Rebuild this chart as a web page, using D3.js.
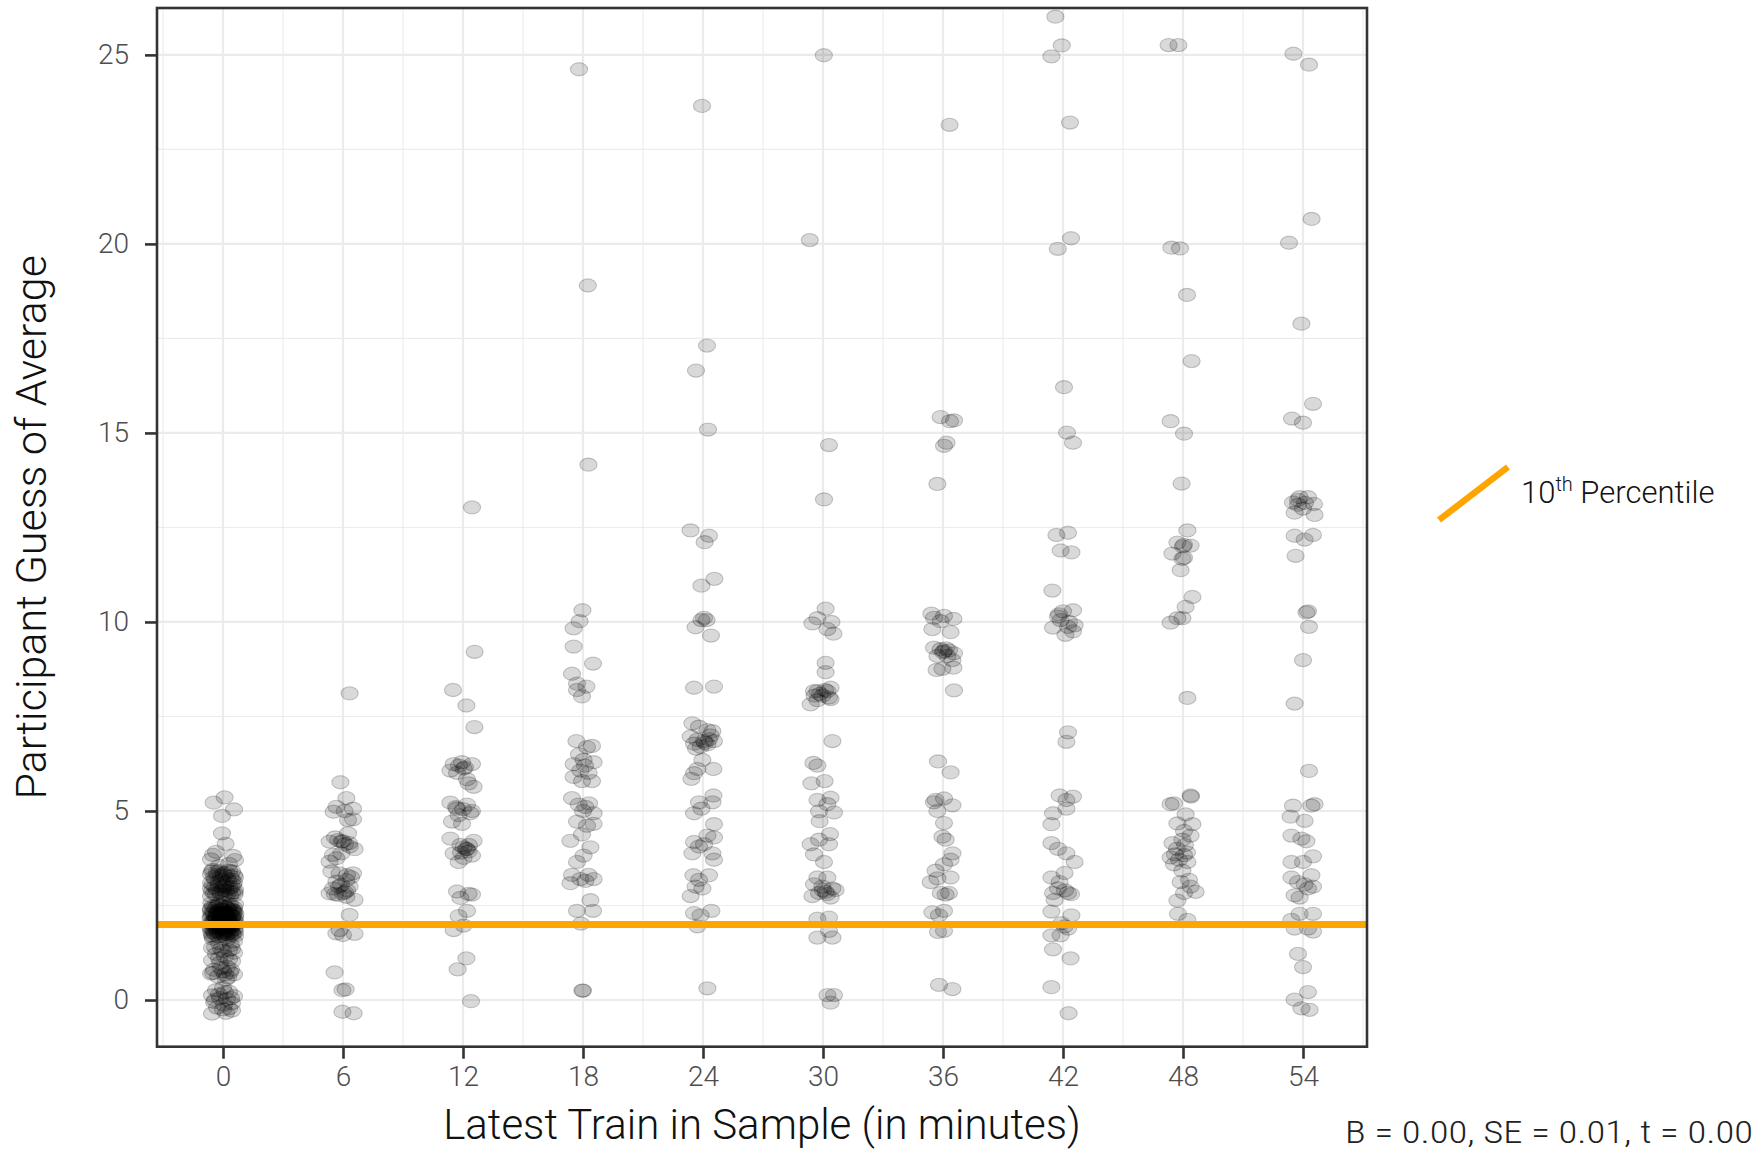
<!DOCTYPE html>
<html>
<head>
<meta charset="utf-8">
<script src="https://cdn.jsdelivr.net/npm/d3@7"></script>
<style>
  html, body { margin: 0; padding: 0; background: #fff; }
  svg { display: block; }
</style>
</head>
<body>
<svg id="chart" width="1760" height="1151"></svg>
<script>
// Latest train in the sample (minutes) and the axis tick values
const trainMinutes = [0, 6, 12, 18, 24, 30, 36, 42, 48, 54];
const xTickLabels = [0, 6, 12, 18, 24, 30, 36, 42, 48, 54];
const yTickLabels = [0, 5, 10, 15, 20, 25];
const percentile10 = 2.0;

// Participant guesses per condition, as [horizontal jitter in minutes, guess]
const guesses0 = [
  [0.08,5.36],[-0.47,5.22],[0.55,5.04],[-0.05,4.87],[-0.05,4.41],[0.13,4.13],[-0.5,3.84],[0.5,3.81],
  [-0.35,3.92],[0.6,3.7],[-0.6,3.72],[0.3,3.6],[-0.2,3.55],
  [-0.55,3.4],[-0.3,3.38],[0.02,3.35],[0.3,3.42],[0.55,3.3],[-0.45,3.25],[-0.1,3.28],[0.2,3.22],
  [0.45,3.18],[-0.6,3.1],[-0.22,3.12],[0.1,3.08],[0.5,3.05],[-0.4,2.98],[0.0,3.01],[0.32,2.96],
  [0.6,2.92],[-0.55,2.88],[-0.15,2.86],[0.15,2.9],[0.45,2.84],[-0.35,2.8],[0.05,2.78],[0.35,2.76],
  [-0.6,2.75],[0.58,2.79],
  [-0.5,3.44],[-0.18,3.41],[0.15,3.37],[0.45,3.4],[-0.6,3.33],[-0.28,3.31],[0.05,3.3],[0.38,3.27],
  [0.6,3.24],[-0.4,3.2],[-0.08,3.17],[0.25,3.15],[0.55,3.12],[-0.52,3.05],[-0.2,3.03],[0.12,3.0],
  [0.42,2.99],[-0.6,2.95],[-0.3,2.92],[0.0,2.9],[0.3,2.87],[0.58,2.85],[-0.45,2.82],[-0.1,2.8],[0.2,2.78],
  [-0.58,2.56],[-0.28,2.51],[0.03,2.54],[0.31,2.49],[0.6,2.53],[-0.44,2.46],[-0.13,2.41],[0.17,2.45],
  [0.46,2.39],[-0.61,2.37],[-0.3,2.33],[0.01,2.38],[0.28,2.31],[0.57,2.35],[-0.47,2.27],[-0.16,2.25],
  [0.14,2.29],[0.44,2.23],[-0.59,2.21],[-0.31,2.17],[-0.02,2.22],[0.29,2.15],[0.61,2.19],[-0.43,2.12],
  [-0.14,2.09],[0.16,2.14],[0.47,2.07],[-0.58,2.05],[-0.29,2.01],[0.02,2.06],[0.32,1.99],[0.59,2.03],
  [-0.46,1.95],[-0.17,1.93],[0.13,1.98],[0.43,1.92],[-0.62,1.89],[-0.32,1.85],[-0.01,1.9],[0.27,1.84],
  [0.58,1.87],[-0.44,1.8],[-0.12,1.77],[0.18,1.82],[0.46,1.76],[-0.55,1.72],[-0.24,1.69],[0.06,1.74],
  [0.36,1.71],[0.6,1.7],[-0.08,2.0],[0.22,2.1],[-0.36,2.2],[0.4,1.96],
  [-0.52,2.48],[-0.21,2.55],[0.09,2.47],[0.38,2.52],[0.55,2.44],[-0.6,2.41],[-0.35,2.44],[-0.05,2.4],
  [0.24,2.43],[0.5,2.37],[-0.48,2.34],[-0.19,2.36],[0.11,2.32],[0.41,2.34],[0.62,2.28],[-0.57,2.29],
  [-0.26,2.3],[0.04,2.27],[0.33,2.26],[0.53,2.31],[-0.41,2.21],[-0.09,2.24],[0.2,2.19],[0.49,2.22],
  [-0.62,2.16],[-0.33,2.13],[-0.04,2.16],[0.26,2.12],[0.55,2.14],[-0.5,2.09],[-0.2,2.06],[0.1,2.1],
  [0.39,2.05],[0.6,2.09],[-0.56,2.01],[-0.25,2.03],[0.05,1.99],[0.35,2.02],[0.52,1.97],[-0.42,1.98],
  [-0.11,1.95],[0.19,1.93],[0.46,1.99],[-0.6,1.93],[-0.3,1.91],[0.0,1.88],[0.3,1.9],[0.56,1.9],
  [-0.49,1.85],[-0.18,1.87],[0.12,1.84],[0.4,1.82],[-0.58,1.79],[-0.27,1.8],[0.03,1.78],[0.33,1.78],
  [0.6,1.8],[-0.4,1.75],[-0.1,1.72],[0.21,1.75],[0.5,1.73],[-0.52,1.68],[0.12,1.68],[-0.3,2.27],
  [0.28,2.4],[-0.15,2.5],[0.45,2.17],[-0.45,2.05],[0.15,1.95],[-0.05,2.3],
  [-0.5,1.62],[0.2,1.6],[0.55,1.55],[-0.2,1.5],[0.4,1.45],[-0.55,1.38],[-0.1,1.35],[0.3,1.32],
  [0.55,1.25],[-0.35,1.22],[0.1,1.15],[-0.55,1.05],[0.45,1.02],[-0.15,0.98],[0.2,0.88],[-0.45,0.8],
  [0.0,0.76],[0.35,0.74],[-0.6,0.7],[0.55,0.68],[-0.25,0.62],[0.15,0.55],
  [-0.4,1.4],[0.0,1.3],[0.45,1.35],[-0.2,1.1],[0.3,1.08],[-0.5,0.72],[0.1,0.68],[0.4,0.8],[-0.1,0.85],[0.25,0.6],
  [0.0,0.32],[-0.35,0.26],[0.3,0.22],[-0.55,0.12],[0.55,0.1],[-0.15,0.05],[0.2,0.02],[-0.45,-0.05],
  [0.45,-0.08],[0.05,-0.12],[-0.3,-0.2],[0.3,-0.22],[-0.55,-0.36],[0.15,-0.34],[0.45,-0.28],
  [-0.2,0.15],[0.1,0.2],[0.4,0.05],[-0.4,0.0],[0.0,-0.25]
];
const guesses6 = [
  [0.33,8.11],[-0.13,5.76],[0.17,5.34],[-0.33,5.11],[0.5,5.06],[0.08,5.0],[-0.47,4.98],[0.25,4.76],[0.5,4.78],
  [0.25,4.41],[-0.67,4.19],[-0.08,4.19],[0.58,3.99],[0.33,4.06],[-0.25,4.23],[0.1,4.12],[-0.4,4.3],
  [0.0,4.2],[0.3,4.15],
  [-0.5,3.84],[-0.67,3.66],[-0.08,3.88],[-0.33,3.75],
  [-0.58,3.4],[-0.17,3.35],[0.5,3.35],[0.17,3.17],[-0.33,3.13],[0.33,3.0],[0.4,3.25],[-0.1,3.05],
  [-0.2,3.0],[0.2,3.3],
  [-0.67,2.82],[-0.25,2.78],[0.17,2.73],[0.58,2.65],[0.0,2.82],[0.2,2.9],[-0.5,2.95],[0.1,2.85],[-0.4,2.8],
  [0.33,2.25],[-0.33,1.76],[0.0,1.72],[0.58,1.75],[-0.17,1.85],
  [-0.42,0.73],[-0.03,0.26],[0.13,0.28],[-0.03,-0.31],[0.53,-0.35]
];
const guesses12 = [
  [0.45,13.03],[0.58,9.21],[-0.5,8.2],[0.17,7.79],[0.57,7.22],
  [-0.47,6.24],[0.03,6.12],[0.45,6.24],[-0.3,6.01],[-0.63,6.07],[0.2,5.84],[0.53,5.64],[-0.05,6.29],[0.28,5.73],
  [0.1,6.15],[-0.2,6.2],
  [-0.63,5.22],[-0.3,5.06],[0.2,5.17],[0.45,5.0],[-0.55,4.72],[-0.05,4.66],[0.37,4.94],[-0.22,4.89],
  [0.0,5.05],[-0.35,5.1],
  [-0.63,4.27],[-0.13,4.1],[0.2,3.99],[0.53,4.21],[-0.47,3.88],[0.03,3.76],[0.45,3.82],[-0.22,3.65],
  [0.28,3.93],[0.03,4.04],[0.15,4.0],[-0.1,3.9],[0.3,4.1],
  [-0.3,2.87],[0.28,2.81],[-0.13,2.7],[0.45,2.79],
  [-0.22,2.22],[0.2,2.36],[-0.47,1.85],[0.03,1.97],
  [0.17,1.1],[-0.27,0.81],[0.4,-0.03]
];
const guesses18 = [
  [-0.2,24.62],[0.24,18.9],[0.27,14.16],
  [-0.03,10.31],[-0.17,10.02],[-0.47,9.83],[-0.47,9.35],[0.5,8.9],[-0.55,8.63],[-0.3,8.37],[-0.05,8.03],
  [0.17,8.29],[-0.3,8.2],
  [-0.33,6.85],[0.2,6.69],[0.45,6.72],[-0.47,6.24],[0.03,6.35],[0.53,6.29],[-0.13,6.07],[0.28,6.01],
  [-0.47,5.9],[-0.05,5.79],[0.45,5.79],[0.1,6.2],[-0.2,6.5],
  [-0.55,5.34],[-0.22,5.17],[0.12,5.11],[0.53,4.94],[-0.3,4.72],[0.2,4.61],[0.53,4.66],[-0.63,4.21],
  [-0.05,4.38],[0.37,4.04],[-0.3,3.65],[0.03,3.82],[0.0,5.0],[0.3,5.2],
  [-0.55,3.31],[-0.13,3.2],[0.28,3.31],[0.53,3.2],[-0.63,3.09],[0.12,3.15],
  [0.37,2.64],[-0.3,2.36],[0.5,2.36],[-0.1,2.02],
  [-0.03,0.25],[0.0,0.25]
];
const guesses24 = [
  [-0.05,23.65],[0.2,17.31],[-0.35,16.65],[0.25,15.09],
  [-0.62,12.42],[0.3,12.28],[0.08,12.11],[0.57,11.14],[-0.08,10.96],
  [0.05,10.11],[-0.08,10.05],[-0.37,9.86],[0.4,9.64],[0.18,10.05],
  [-0.45,8.26],[0.55,8.29],
  [-0.53,7.32],[-0.2,7.23],[0.22,7.14],[0.47,7.11],[-0.62,6.97],[-0.28,6.88],[0.05,6.85],[0.55,6.85],
  [-0.12,6.7],[0.22,6.76],[-0.45,6.78],[0.38,7.0],[0.1,6.8],[-0.35,6.65],[0.3,6.9],
  [-0.03,6.35],[0.52,6.11],[-0.28,6.11],[-0.45,6.0],[-0.58,5.85],
  [0.52,5.41],[-0.2,5.23],[0.47,5.23],[-0.45,4.94],[-0.08,5.06],
  [0.55,4.65],[0.22,4.35],[0.55,4.3],[-0.45,4.18],[-0.2,4.06],[-0.53,3.88],[0.47,3.88],[0.55,3.71],[0.05,4.12],
  [-0.48,3.3],[-0.2,3.18],[0.3,3.3],[-0.03,2.95],[-0.37,3.0],[-0.62,2.75],
  [-0.45,2.3],[0.42,2.36],[-0.12,2.24],[-0.28,1.95],
  [0.22,0.31]
];
const guesses30 = [
  [0.04,24.99],[-0.66,20.1],[0.3,14.68],[0.05,13.24],
  [0.13,10.35],[-0.28,10.1],[-0.53,9.96],[0.42,10.0],[0.22,9.81],[0.52,9.69],
  [0.13,8.92],[0.13,8.67],[0.38,8.26],[-0.28,8.17],[-0.45,8.17],[0.22,8.17],[-0.03,8.05],[-0.28,7.93],
  [-0.62,7.82],[0.38,7.96],[-0.42,8.05],[0.1,8.2],[-0.15,8.1],[0.3,8.0],
  [0.47,6.85],[-0.48,6.27],[-0.28,6.2],[-0.58,5.73],[0.08,5.79],
  [-0.28,5.29],[0.38,5.35],[0.22,5.18],[0.55,4.96],[-0.2,4.99],[-0.17,4.73],
  [-0.62,4.12],[0.35,4.39],[-0.2,4.24],[0.3,4.12],[-0.45,3.85],
  [0.05,3.65],[-0.28,3.24],[0.22,3.24],[0.47,2.95],[-0.53,2.75],[-0.03,3.0],[0.38,2.71],[-0.2,2.83],
  [0.13,2.86],[-0.45,3.06],[0.63,2.91],[0.0,2.9],[0.2,2.8],
  [-0.28,2.15],[0.3,2.18],[0.3,1.83],[-0.28,1.65],[0.47,1.65],
  [0.22,0.13],[0.55,0.13],[0.38,-0.07]
];
const guesses36 = [
  [0.33,23.15],
  [-0.12,15.42],[0.35,15.31],[0.55,15.33],[0.18,14.74],[0.05,14.66],[-0.28,13.65],
  [-0.58,10.22],[-0.45,10.11],[-0.12,10.02],[0.52,10.08],[-0.53,9.81],[0.38,9.73],[0.05,10.16],
  [-0.45,9.32],[-0.12,9.28],[0.3,9.25],[0.55,9.17],[0.05,9.23],[-0.28,9.1],[0.47,8.99],[0.22,9.1],
  [-0.32,8.73],[-0.03,8.76],[0.52,8.79],[0.55,8.19],[0.0,9.2],[0.15,9.3],
  [-0.25,6.31],[0.38,6.02],
  [-0.45,5.23],[0.05,5.33],[0.47,5.15],[-0.28,5.0],[-0.37,5.29],
  [0.05,4.68],[-0.03,4.32],[0.13,4.24],
  [0.47,3.88],[0.38,3.71],[0.05,3.59],[-0.37,3.42],[-0.62,3.12],[0.38,3.24],[-0.28,3.22],[-0.12,2.83],
  [0.13,2.79],[0.3,2.83],
  [-0.53,2.32],[-0.2,2.24],[0.05,2.36],[-0.25,1.8],[0.05,1.83],
  [-0.2,0.4],[0.47,0.29]
];
const guesses42 = [
  [-0.38,26.01],[-0.06,25.25],[-0.58,24.96],[0.35,23.21],[0.4,20.15],[-0.26,19.87],
  [0.05,16.21],[0.2,15.01],[0.5,14.74],
  [-0.33,12.3],[0.25,12.36],[-0.12,11.89],[0.42,11.84],[-0.53,10.83],
  [0.0,10.28],[0.5,10.31],[-0.25,10.14],[-0.12,10.05],[-0.5,9.85],[0.25,9.87],[0.58,9.91],[0.12,9.66],
  [0.5,9.75],[-0.2,10.2],[0.3,10.0],
  [0.25,7.08],[0.17,6.83],
  [-0.17,5.41],[0.5,5.38],[0.17,5.29],[-0.5,4.94],[0.17,5.06],[-0.58,4.65],
  [-0.58,4.15],[-0.25,4.0],[0.17,3.88],[0.58,3.65],[0.08,3.36],[-0.58,3.24],[-0.17,3.12],[-0.5,2.83],
  [0.25,2.83],[-0.25,2.95],[-0.42,2.65],[0.1,2.9],[0.4,2.8],
  [-0.58,2.34],[0.42,2.24],[-0.08,2.03],[0.08,1.95],[-0.58,1.71],[-0.12,1.71],[0.25,1.89],
  [-0.5,1.34],[0.38,1.1],[-0.58,0.34],[0.28,-0.35]
];
const guesses48 = [
  [-0.72,25.26],[-0.23,25.26],[-0.58,19.9],[-0.15,19.88],[0.2,18.65],[0.43,16.9],
  [-0.62,15.31],[0.05,14.98],[-0.07,13.66],
  [0.22,12.42],[-0.28,12.1],[0.05,12.04],[0.38,12.02],[-0.53,11.81],[-0.03,11.67],[-0.12,11.37],[0.05,11.7],
  [0.0,12.0],
  [0.47,10.66],[0.13,10.4],[-0.28,10.1],[-0.62,9.98],[-0.03,10.1],
  [0.22,7.99],
  [0.38,5.41],[-0.62,5.18],[-0.45,5.2],[0.4,5.38],
  [0.13,4.91],[-0.28,4.67],[0.47,4.65],[0.05,4.47],[-0.53,4.15],[-0.03,4.24],[0.38,4.35],[-0.62,3.77],
  [-0.2,3.71],[0.22,3.65],[-0.45,3.59],[0.05,3.83],[-0.03,3.42],[-0.12,3.12],[0.38,3.0],[0.63,2.86],
  [0.05,2.83],[0.3,3.18],[-0.3,4.0],[0.2,3.9],[0.1,4.1],[-0.4,3.85],
  [-0.28,2.63],[-0.25,2.28],[0.22,2.12]
];
const guesses54 = [
  [-0.48,25.03],[0.3,24.74],[0.43,20.66],[-0.7,20.03],[-0.08,17.89],
  [0.5,15.77],[-0.55,15.38],[0.0,15.27],
  [-0.17,13.3],[0.25,13.3],[-0.5,13.16],[0.55,13.12],[-0.25,13.1],[0.0,13.0],[-0.42,12.89],[0.58,12.83],
  [-0.25,13.23],[0.1,13.15],[-0.42,12.28],[0.08,12.18],[0.5,12.3],[-0.37,11.75],
  [0.17,10.25],[0.25,10.28],[0.3,9.87],
  [0.0,8.99],[-0.42,7.84],[0.3,6.06],
  [-0.5,5.14],[0.42,5.14],[0.58,5.18],[-0.62,4.85],[0.08,4.74],
  [-0.58,4.35],[-0.08,4.27],[0.17,4.2],[0.5,3.8],[-0.58,3.65],[0.0,3.65],[0.42,3.3],
  [-0.58,3.24],[-0.25,3.12],[0.08,3.06],[0.5,3.0],[-0.42,2.77],[-0.17,2.71],[0.25,2.95],
  [-0.58,2.12],[-0.17,2.28],[0.5,2.28],[0.25,1.89],[-0.42,1.89],[0.5,1.81],
  [-0.25,1.22],[0.0,0.87],
  [0.25,0.21],[-0.42,0.01],[-0.08,-0.22],[0.33,-0.26]
];
const guessesByTrain = [guesses0, guesses6, guesses12, guesses18, guesses24,
                        guesses30, guesses36, guesses42, guesses48, guesses54];

// Flatten into point records
const points = [];
trainMinutes.forEach((m, i) => {
  guessesByTrain[i].forEach(([jit, g]) => points.push({ x: m + jit, y: g }));
});

const svg = d3.select("#chart");
const panel = { left: 157, right: 1367, top: 8, bottom: 1046.7 };

const x = d3.scaleLinear().domain([-3.3, 57.2]).range([panel.left, panel.right]);
const y = d3.scaleLinear().domain([-1.235, 26.24]).range([panel.bottom, panel.top]);

const FONT = '"Helvetica Neue", Roboto, "Liberation Sans", Arial, sans-serif';

// Grid: minor lines first, then major
const grid = svg.append("g");
const xMinor = d3.range(-3, 58, 6).filter(v => x(v) > panel.left && x(v) < panel.right);
const yMinor = d3.range(-2.5, 27, 5).filter(v => y(v) < panel.bottom && y(v) > panel.top);
grid.selectAll(".xminor").data(xMinor).join("line")
  .attr("x1", d => x(d)).attr("x2", d => x(d))
  .attr("y1", panel.top).attr("y2", panel.bottom)
  .attr("stroke", "#ececec").attr("stroke-width", 1.1);
grid.selectAll(".yminor").data(yMinor).join("line")
  .attr("x1", panel.left).attr("x2", panel.right)
  .attr("y1", d => y(d)).attr("y2", d => y(d))
  .attr("stroke", "#ececec").attr("stroke-width", 1.1);
grid.selectAll(".xmajor").data(xTickLabels).join("line")
  .attr("x1", d => x(d)).attr("x2", d => x(d))
  .attr("y1", panel.top).attr("y2", panel.bottom)
  .attr("stroke", "#ebebeb").attr("stroke-width", 2.2);
grid.selectAll(".ymajor").data(yTickLabels).join("line")
  .attr("x1", panel.left).attr("x2", panel.right)
  .attr("y1", d => y(d)).attr("y2", d => y(d))
  .attr("stroke", "#ebebeb").attr("stroke-width", 2.2);

// Jittered guesses
svg.append("clipPath").attr("id", "panel-clip")
  .append("rect").attr("x", panel.left).attr("y", panel.top)
  .attr("width", panel.right - panel.left).attr("height", panel.bottom - panel.top);
svg.append("g").attr("clip-path", "url(#panel-clip)")
  .selectAll("ellipse").data(points).join("ellipse")
  .attr("cx", d => x(d.x)).attr("cy", d => y(d.y))
  .attr("rx", 8.6).attr("ry", 6.6)
  .attr("fill", "rgba(0,0,0,0.15)")
  .attr("stroke", "rgba(0,0,0,0.2)")
  .attr("stroke-width", 1.1);

// 10th percentile reference line
svg.append("line")
  .attr("x1", panel.left).attr("x2", panel.right)
  .attr("y1", y(percentile10)).attr("y2", y(percentile10))
  .attr("stroke", "#FFA500").attr("stroke-width", 7);

// Panel border
svg.append("rect")
  .attr("x", panel.left).attr("y", panel.top)
  .attr("width", panel.right - panel.left).attr("height", panel.bottom - panel.top)
  .attr("fill", "none").attr("stroke", "#333333").attr("stroke-width", 2.6);

// Axes
const yAxis = svg.append("g").attr("transform", `translate(${panel.left},0)`)
  .call(d3.axisLeft(y).tickValues(yTickLabels).tickSize(12).tickPadding(16).tickFormat(d3.format("d")));
const xAxis = svg.append("g").attr("transform", `translate(0,${panel.bottom})`)
  .call(d3.axisBottom(x).tickValues(xTickLabels).tickSize(12).tickPadding(7).tickFormat(d3.format("d")));
[yAxis, xAxis].forEach(a => {
  a.select(".domain").remove();
  a.selectAll(".tick line").attr("stroke", "#333333").attr("stroke-width", 2.6);
  a.selectAll(".tick text").attr("fill", "#4d4d4d")
    .style("font-size", "28px").style("font-family", FONT).style("font-weight", 300);
});

// Axis titles
svg.append("text")
  .attr("x", (panel.left + panel.right) / 2).attr("y", 1139)
  .attr("text-anchor", "middle")
  .style("font-family", FONT).style("font-size", "42px").style("font-weight", 300).attr("fill", "#111")
  .text("Latest Train in Sample (in minutes)");
svg.append("text")
  .attr("transform", `translate(46,${(panel.top + panel.bottom) / 2}) rotate(-90)`)
  .attr("text-anchor", "middle")
  .style("font-family", FONT).style("font-size", "43px").style("font-weight", 300).attr("fill", "#111")
  .text("Participant Guess of Average");

// Legend
const legend = svg.append("g");
legend.append("line")
  .attr("x1", 1439).attr("y1", 520).attr("x2", 1508).attr("y2", 467)
  .attr("stroke", "#FFA500").attr("stroke-width", 6.5);
const lt = legend.append("text")
  .attr("x", 1521).attr("y", 503)
  .style("font-family", FONT).style("font-size", "31px").style("font-weight", 300).attr("fill", "#111");
lt.append("tspan").text("10");
lt.append("tspan").attr("dy", -12).style("font-size", "20px").text("th");
lt.append("tspan").attr("dy", 12).text(" Percentile");

// Regression summary
svg.append("text")
  .attr("x", 1345).attr("y", 1143)
  .attr("textLength", 408).attr("lengthAdjust", "spacingAndGlyphs")
  .style("font-family", '"Liberation Sans Narrow", "Roboto Condensed", Roboto, sans-serif')
  .style("font-size", "32px").style("font-weight", 300).attr("fill", "#222")
  .text("B = 0.00, SE = 0.01, t = 0.00");
</script>
</body>
</html>
